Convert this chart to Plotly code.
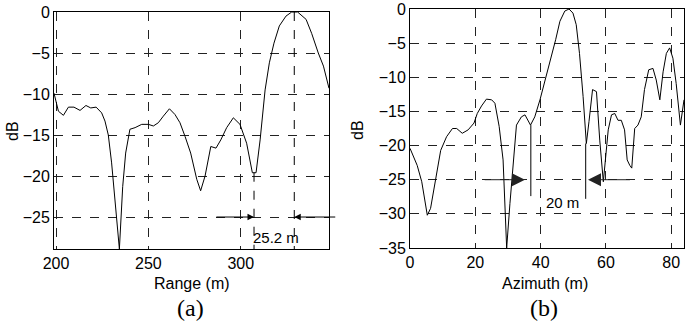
import plotly.graph_objects as go

# ---- data (a) range profile ----
range_x = [198.9, 200, 201.3, 204, 206.7, 209.7, 213, 216.2, 218.8, 221.7, 224.7, 226.5, 228.3,
           230.1, 232, 234.3, 236.1, 237.7, 240, 242.8, 246.4, 250, 252.7, 255.4, 258.1, 261.4,
           264.4, 267.1, 269.9, 272.9, 276.2, 278.3, 280.7, 283.8, 286.6, 289.2, 292.4, 296,
           299.6, 303.2, 306.3, 308.3, 310.5, 313.2, 315.5, 318, 320.9, 324.5, 327.6, 330.8,
           335.4, 338.4, 342, 344.8, 347.8]
range_db = [-9.9, -10.9, -12.1, -12.6, -11.6, -11.6, -12.0, -11.4, -11.7, -11.6, -12.3, -13.3, -15.0,
            -18.4, -22.9, -28.9, -21.3, -17.2, -14.3, -14.1, -13.7, -13.7, -13.9, -13.5, -12.7, -11.8,
            -12.5, -13.5, -15.2, -17.2, -20.4, -21.8, -20.0, -16.4, -16.6, -15.6, -14.1, -12.9,
            -13.7, -16.0, -19.6, -19.6, -15.6, -9.5, -6.2, -3.8, -1.7, -0.5, 0.0, 0.0,
            -0.9, -2.6, -5.0, -6.6, -9.3]

# ---- data (b) azimuth profile ----
az_x = [0, 1.0, 2.2, 3.6, 5.3, 6.3, 7.6, 9.4, 11.2, 13, 14.3, 16, 17.8, 19.6, 20.6, 21.9, 23.4, 25,
        26, 27.3, 28.5, 29.6, 30.6, 31.6, 32.6, 34.1, 35.2, 36.9, 38.2, 39.8, 41.3, 42.8, 44.6,
        45.9, 47.4, 48.7, 49.9, 50.9, 51.9, 53, 54, 54.8, 55.9, 57.1, 58.1, 59.2, 59.8, 60.7, 61.7,
        62.7, 63.7, 64.7, 65.7, 66.5, 67.3, 67.9, 68.8, 69.8, 70.8, 71.8, 73.1, 74.4, 75.4, 76.5,
        77.5, 78.5, 79.5, 80.5, 81.5, 82.8, 83.9]
az_db = [-20.4, -21.6, -22.9, -25.3, -30.2, -29.2, -25.6, -20.7, -18.7, -17.5, -17.5, -18.2, -17.7,
         -16.7, -15.3, -14.2, -13.2, -13.3, -13.8, -17.2, -22.1, -35.0, -28.5, -22.1, -17.0, -15.8,
         -15.5, -17.0, -15.8, -13.3, -10.6, -7.9, -4.5, -1.8, -0.3, 0.0, -0.6, -2.3, -6.5, -12.8,
         -19.7, -16.5, -11.8, -12.1, -19.2, -25.3, -22.1, -17.7, -15.5, -15.3, -16.3, -16.3, -17.7,
         -22.1, -22.9, -23.3, -17.5, -17.0, -15.8, -11.8, -8.9, -8.7, -10.4, -13.3, -9.2, -6.5,
         -5.7, -7.2, -10.9, -17.0, -13.3]

range_ticks = [200, 250, 300]
range_db_ticks = [0, -5, -10, -15, -20, -25]
az_ticks = [0, 20, 40, 60, 80]
az_db_ticks = [0, -5, -10, -15, -20, -25, -30, -35]

# annotation values
a_marks = [307.2, 329.0]          # dashed markers in (a)
a_mark_top = [-19.6, 0.0]
a_arrow_y = -25
a_arrows = [(286, 307.2), (352, 329.0)]   # (tail, head)
a_label = ("25.2 m", 319, -27.5)

b_marks = [37.0, 53.8]
b_mark_top = [-17.0, -19.7]
b_mark_bottom = [-27.4, -27.8]
b_arrow_y = -25
b_arrows = [(22.4, 35.2), (67.8, 54.5)]
b_label = ("20 m", 46.8, -28.3)

FONT = "Liberation Sans, Arial, Helvetica, sans-serif"
W, H = 685, 326

fig = go.Figure()
fig.add_trace(go.Scatter(x=range_x, y=range_db, mode="lines", line=dict(color="black", width=1),
                         xaxis="x", yaxis="y", showlegend=False, hoverinfo="skip"))
fig.add_trace(go.Scatter(x=az_x, y=az_db, mode="lines", line=dict(color="black", width=1),
                         xaxis="x2", yaxis="y2", showlegend=False, hoverinfo="skip"))

axis_common = dict(showline=True, mirror=True, linecolor="black", linewidth=1, automargin=False,
                   showgrid=True, gridcolor="#222", gridwidth=1, griddash="dash",
                   zeroline=False, ticks="", tickfont=dict(family=FONT, size=16, color="black"))

fig.update_layout(
    width=W, height=H, margin=dict(l=0, r=0, t=0, b=0),
    paper_bgcolor="white", plot_bgcolor="white", showlegend=False,
    xaxis=dict(domain=[54/W, 329/W], range=[198.9, 347.8], tickvals=range_ticks, anchor="y", **axis_common),
    yaxis=dict(domain=[1-249/H, 1-12/H], range=[-28.9, 0], tickvals=range_db_ticks, anchor="x", **axis_common),
    xaxis2=dict(domain=[410/W, 684/W], range=[0, 83.9], tickvals=az_ticks, anchor="y2", **axis_common),
    yaxis2=dict(domain=[1-248/H, 1-9/H], range=[-35, 0], tickvals=az_db_ticks, anchor="x2", **axis_common),
)

shapes = []
for xv, top in zip(a_marks, a_mark_top):
    shapes.append(dict(type="line", xref="x", yref="y", x0=xv, x1=xv, y0=top, y1=-28.9,
                       line=dict(color="black", width=1, dash="dash")))
for xv, top, bot in zip(b_marks, b_mark_top, b_mark_bottom):
    shapes.append(dict(type="line", xref="x2", yref="y2", x0=xv, x1=xv, y0=top, y1=bot,
                       line=dict(color="black", width=1)))
fig.update_layout(shapes=shapes)

anns = []
for tail, head in a_arrows:
    anns.append(dict(x=head, y=a_arrow_y, ax=tail, ay=a_arrow_y, xref="x", yref="y",
                     axref="x", ayref="y", text="", showarrow=True, arrowhead=2,
                     arrowsize=1.3, arrowwidth=1, arrowcolor="black"))
for tail, head in b_arrows:
    anns.append(dict(x=head, y=b_arrow_y, ax=tail, ay=b_arrow_y, xref="x2", yref="y2",
                     axref="x2", ayref="y2", text="", showarrow=True, arrowhead=2,
                     arrowsize=2.6, arrowwidth=1, arrowcolor="#222"))
anns.append(dict(x=a_label[1], y=a_label[2], xref="x", yref="y", text=a_label[0], showarrow=False,
                 font=dict(family=FONT, size=15, color="black")))
anns.append(dict(x=b_label[1], y=b_label[2], xref="x2", yref="y2", text=b_label[0], showarrow=False,
                 font=dict(family=FONT, size=15, color="black")))

# axis titles and panel labels
titles = [("Range (m)", 192, 283, 0, FONT, 16), ("Azimuth (m)", 545, 283, 0, FONT, 16),
          ("dB", 12, 131, -90, FONT, 16), ("dB", 358, 130, -90, FONT, 16),
          ("(a)", 190, 308, 0, "Liberation Serif, Times New Roman, serif", 24),
          ("(b)", 544, 308, 0, "Liberation Serif, Times New Roman, serif", 24)]
for txt, px, py, ang, fam, sz in titles:
    anns.append(dict(x=px/W, y=1-py/H, xref="paper", yref="paper", text=txt, showarrow=False,
                     textangle=ang, xanchor="center", yanchor="middle",
                     font=dict(family=fam, size=sz, color="black")))
fig.update_layout(annotations=anns)

fig.write_html("out.html", config={"displayModeBar": False, "staticPlot": True},
               post_script="document.body.style.margin='0';document.body.style.overflow='hidden';")
